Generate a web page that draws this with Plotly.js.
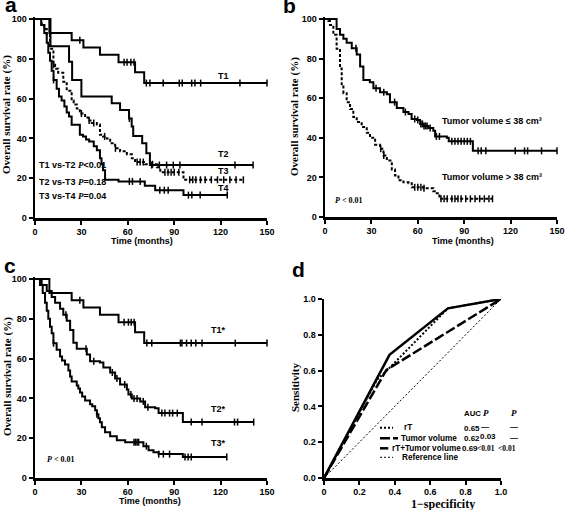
<!DOCTYPE html>
<html><head><meta charset="utf-8">
<script src="https://cdn.plot.ly/plotly-3.0.1.min.js"></script>
<style>html,body{margin:0;padding:0;background:#fff}#chart{width:567px;height:510px}</style>
</head><body><div id="chart"></div>
<script>
// ---------- DATA ----------
const monthTicks = [0, 30, 60, 90, 120, 150];
const pctTicks = [0, 20, 40, 60, 80, 100];
const rocTicks = [0, 0.2, 0.4, 0.6, 0.8, 1];
const rocXLabels = ['0', '0.2', '0.4', '0.6', '0.8', '1.0'];
const rocYLabels = ['0.0', '0.2', '0.4', '0.6', '0.8', '1.0'];

// Panel a : T stage
const aT1Time = [0, 9.3, 23.7, 31.3, 42, 54, 64.7, 70.6, 150];
const aT1Surv = [100, 93, 89.3, 85.7, 82, 78.3, 73.3, 67.8, 67.8];
const aT1Cens = [29, 57.6, 59.5, 62, 64, 72, 74.3, 82.9, 93.3, 95.2, 101.3, 103.4, 107.1, 132.5, 150];

const aT2Time = [0, 10, 22, 24, 30, 49.6, 55, 60.8, 62.5, 63.5, 69.3, 72, 74.3, 141];
const aT2Surv = [100, 86.3, 78.5, 69.3, 61, 57.6, 54.3, 50, 46, 41.2, 37.5, 32.5, 26.6, 26.6];
const aT2Cens = [61, 75.4, 80.4, 85.1, 89.4, 93.7, 129.3, 141];

const aT3Time = [0, 4.3, 6, 7.6, 9.7, 11.9, 13, 15, 18.3, 20.5, 23.7, 25, 27, 29, 32.4, 34.5, 36.7, 40, 42, 44, 46.4, 48.6, 51.8, 55, 59.4, 62.6, 64.7, 71.2, 78.8, 81, 96, 134.7];
const aT3Surv = [100, 97, 95, 92, 85, 77, 75, 73, 68.5, 64, 59, 57, 55, 52.5, 50.5, 49, 47.7, 47, 41.8, 41, 40, 37.5, 35, 33.5, 32, 30, 28.1, 27, 25.5, 23, 19.2, 19.2];
const aT3Cens = [12, 30, 35, 38, 45, 52, 66, 68, 70, 76, 84, 86, 88, 90, 93, 100, 102, 104, 107, 110, 114, 118, 122, 126, 130, 134.7];

const aT4Time = [0, 4, 6, 7.6, 8.6, 9.7, 10.8, 12, 14, 15.5, 17.2, 19, 20.5, 22, 23.7, 29, 31, 33, 35, 38, 40, 42, 43, 44, 45.3, 54, 71, 77.7, 96, 124.3];
const aT4Surv = [100, 97, 93, 88, 83, 79, 74, 69.4, 65, 61, 59, 56, 53, 51, 46.8, 41.8, 41, 39.5, 38.5, 36, 34, 30, 27, 24, 19.2, 18.4, 16.2, 14, 11.5, 11.5];
const aT4Cens = [12, 61, 63, 68, 80.7, 83.6, 86.1, 99.2, 101.4, 106.8, 124.3];

// Panel b : tumor volume
const bLowTime = [0, 7.5, 9.7, 11.9, 14, 17.3, 20.5, 22.7, 24.8, 29, 31.3, 35.6, 40, 42, 46.4, 50.7, 54, 56, 59.4, 61.5, 63.7, 66.9, 70, 71.2, 78.8, 80, 95.6, 150];
const bLowSurv = [100, 95, 92, 90, 88, 85.2, 82, 76, 69.2, 68, 65, 63, 62, 58, 55, 53, 52, 49.5, 49, 47, 46, 45, 43.5, 40.7, 40, 38.2, 33.4, 33.4];
const bLowCens = [20, 33, 38, 45, 52, 58, 60, 62, 63, 64, 65, 66, 68, 72, 74, 82, 84, 86, 88, 90, 92, 94, 99, 101, 104, 123, 129, 131, 140, 150];

const bHighTime = [0, 2.2, 3.2, 5.4, 7.5, 9.7, 10.8, 11.9, 14, 16.2, 18.3, 20.5, 23.7, 27, 29.1, 32.4, 35.6, 37.8, 40, 43.2, 45.3, 47.5, 50.7, 54, 56.1, 63.7, 70, 72.3, 74, 108.3];
const bHighSurv = [100, 99, 97, 92, 85, 75, 67, 62.5, 58, 54.5, 50.5, 48, 45.5, 42.5, 40, 36.5, 34.5, 31, 28.5, 24, 21, 18.5, 17.5, 17, 15, 14.5, 13, 12, 9.2, 9.2];
const bHighCens = [36, 38, 58, 60, 62, 64, 75, 77, 79, 82, 84, 86, 88, 91, 94, 97, 100, 103, 106, 108.3];

// Panel c : revised T stage
const cT1Time = [0, 9.3, 23.7, 31.3, 42, 54, 64.7, 70.6, 150];
const cT1Surv = [100, 93, 89.3, 85.7, 82, 78.3, 73.3, 67.8, 67.8];
const cT1Cens = [29, 57.6, 60.4, 62.2, 64.1, 72.3, 75.5, 94, 95, 98, 101, 104, 108, 129.5, 150];

const cT2Time = [0, 4.3, 7.6, 10.8, 13, 16.2, 18.3, 20.5, 22.7, 24.8, 27, 33.5, 35.6, 42, 44.2, 48.6, 51.8, 55, 59.4, 60.4, 62.6, 68, 71.2, 77.7, 79.9, 95.6, 141.4];
const cT2Surv = [100, 97, 94, 91, 88, 85, 82, 79, 74.4, 68, 64.9, 62, 58.7, 58, 55.5, 53, 50, 47, 44.5, 42, 40, 38.5, 35.5, 35, 32.6, 28.1, 28.1];
const cT2Cens = [20, 33, 38, 50, 53, 58, 62, 64, 66, 70, 73, 82, 84, 87, 89, 92, 101, 108, 129, 131, 141.4];

const cT3Time = [0, 3.2, 5, 6.5, 7.6, 8.6, 9.7, 10.8, 11.9, 14, 16.2, 17.5, 19.4, 21.6, 22.7, 23.7, 27, 28, 29.1, 30.5, 32.4, 35.6, 37, 38.9, 40, 41, 42, 43.2, 45.3, 48.6, 52.9, 58.3, 70.1, 73.4, 76.6, 79.9, 95.6, 124];
const cT3Surv = [100, 97, 93, 88, 84, 80, 76, 72.7, 67.7, 64.5, 61, 59, 57, 54, 51, 48.5, 46.5, 45, 43, 41, 39, 37, 36, 34, 32, 30, 28, 25.5, 23, 21, 19, 18, 16, 14, 13, 12, 10.5, 10.5];
const cT3Cens = [12, 40, 64, 65, 66, 67, 72, 80, 83, 87, 97, 99, 101, 124];

// Panel d : ROC curves
const rocRTFpr = [0, 0.30, 0.35, 0.70, 1];
const rocRTTpr = [0, 0.55, 0.595, 0.948, 1];
const rocTVFpr = [0, 0.353, 1];
const rocTVTpr = [0, 0.604, 1];
const rocCombFpr = [0, 0.37, 0.70, 1];
const rocCombTpr = [0, 0.688, 0.948, 1];
const rocRefFpr = [0, 1];
const rocRefTpr = [0, 1];
const rocNames = ['rT', 'Tumor volume', 'rT+Tumor volume', 'Reference line'];
const rocAUC = ['0.65', '0.62', '0.69'];
const rocP1 = ['—', '0.03', '&lt;0.01'];
const rocP2 = ['—', '—', '&lt;0.01'];

// ---------- HELPERS ----------
const W = 567, H = 510;
const SANS = 'Liberation Sans, Arial, sans-serif';
const SERIF = 'Liberation Serif, Times New Roman, serif';
function px(v) { return v / W; }
function py(v) { return 1 - v / H; }
function stepAt(t, s, v) {
  let r = s[0];
  for (let i = 0; i < t.length; i++) { if (t[i] <= v) r = s[i]; }
  return r;
}
const traces = [];
function km(t, s, c, xa, ya, dash) {
  traces.push({x: t, y: s, xaxis: xa, yaxis: ya, mode: 'lines', showlegend: false, hoverinfo: 'skip',
    line: {shape: 'hv', color: '#000', width: 2, dash: dash || 'solid'}});
  traces.push({x: c, y: c.map(v => stepAt(t, s, v)), xaxis: xa, yaxis: ya, mode: 'markers', showlegend: false,
    hoverinfo: 'skip', cliponaxis: false,
    marker: {symbol: 'line-ns-open', size: 5, color: '#000', line: {width: 1.5, color: '#000'}}});
}
const shortDash = '3px,2px';
km(aT1Time, aT1Surv, aT1Cens, 'x', 'y');
km(aT2Time, aT2Surv, aT2Cens, 'x', 'y');
km(aT3Time, aT3Surv, aT3Cens, 'x', 'y', shortDash);
km(aT4Time, aT4Surv, aT4Cens, 'x', 'y');
km(bLowTime, bLowSurv, bLowCens, 'x2', 'y2');
km(bHighTime, bHighSurv, bHighCens, 'x2', 'y2', shortDash);
km(cT1Time, cT1Surv, cT1Cens, 'x3', 'y3');
km(cT2Time, cT2Surv, cT2Cens, 'x3', 'y3');
km(cT3Time, cT3Surv, cT3Cens, 'x3', 'y3');

const rocStyles = [
  {width: 2, dash: '2px,2px'},
  {width: 2.5, dash: '10px,3px'},
  {width: 2.5, dash: 'solid'},
  {width: 1, dash: '2px,2px'}
];
[[rocRTFpr, rocRTTpr], [rocTVFpr, rocTVTpr], [rocCombFpr, rocCombTpr], [rocRefFpr, rocRefTpr]].forEach((d, i) => {
  traces.push({x: d[0], y: d[1], xaxis: 'x4', yaxis: 'y4', mode: 'lines', name: rocNames[i], showlegend: false,
    hoverinfo: 'skip', line: {color: '#000', width: rocStyles[i].width, dash: rocStyles[i].dash}});
});

// ---------- AXES ----------
const tickFont = {family: SANS, size: 9, color: '#000', weight: 700};
function axis(domain, range, vals, texts) {
  return {domain, range, tickvals: vals, ticktext: texts, ticks: 'outside', ticklen: 4, tickwidth: 2,
    tickcolor: '#000', showline: true, linewidth: 2.5, linecolor: '#000', showgrid: false, zeroline: false,
    tickfont: tickFont, fixedrange: true};
}
const mt = monthTicks.map(String), pt = pctTicks.map(String);
const layout = {
  width: W, height: H, autosize: false, margin: {l: 0, r: 0, t: 0, b: 0},
  paper_bgcolor: '#fff', plot_bgcolor: '#fff', showlegend: false,
  font: {family: SANS, color: '#000', size: 9},
  xaxis: axis([px(35), px(267)], [0, 150], monthTicks, mt),
  yaxis: axis([py(218), py(17)], [0, 101], pctTicks, pt),
  xaxis2: axis([px(325), px(557)], [0, 150], monthTicks, mt),
  yaxis2: axis([py(217), py(17)], [0, 101], pctTicks, pt),
  xaxis3: axis([px(35), px(267)], [0, 150], monthTicks, mt),
  yaxis3: axis([py(478), py(277)], [0, 101], pctTicks, pt),
  xaxis4: axis([px(324), px(501)], [0, 1], rocTicks, rocXLabels),
  yaxis4: axis([py(478), py(299)], [0, 1], rocTicks, rocYLabels),
  annotations: [], shapes: []
};
layout.xaxis2.anchor = 'y2'; layout.yaxis2.anchor = 'x2';
layout.xaxis3.anchor = 'y3'; layout.yaxis3.anchor = 'x3';
layout.xaxis4.anchor = 'y4'; layout.yaxis4.anchor = 'x4';

const A = layout.annotations;
function ann(text, x, y, xref, yref, o) {
  o = o || {};
  A.push({text, x, y, xref, yref, showarrow: false, xanchor: o.xa || 'center', yanchor: o.ya || 'middle',
    textangle: o.angle || 0,
    font: {family: o.family || SANS, size: o.size || 9, color: '#000', weight: o.weight === undefined ? 700 : o.weight}});
}
function annPx(text, xp, yp, o) { ann(text, px(xp), py(yp), 'paper', 'paper', o); }
const Pit = '<i><span style="font-family:Liberation Serif">P</span></i>';
// panel letters
annPx('a', 3, 5, {xa: 'left', size: 21});
annPx('b', 281, 6, {xa: 'left', size: 21});
annPx('c', 2, 265, {xa: 'left', size: 21});
annPx('d', 290, 269, {xa: 'left', size: 21});
// axis titles
const yt = 'Overall survival rate (%)';
annPx(yt, 7, 115, {angle: -90, family: SERIF, size: 11});
annPx(yt, 295, 117, {angle: -90, family: SERIF, size: 11});
annPx(yt, 7, 377, {angle: -90, family: SERIF, size: 11});
annPx('Time (months)', 142, 240.5);
annPx('Time (months)', 463, 240.5);
annPx('Time (months)', 150, 500.5);
annPx('Sensitivity', 295, 388, {angle: -90, family: SERIF, size: 11});
annPx('1−specificity', 443, 503.5, {family: SERIF, size: 12});
// panel a labels
ann('T1', 122, 71.4, 'x', 'y');
ann('T2', 122, 32.3, 'x', 'y');
ann('T3', 122, 23.4, 'x', 'y');
ann('T4', 122, 15, 'x', 'y');
ann('T1 vs-T2 ' + Pit + '&lt;0.01', 1.2, 26.4, 'x', 'y', {xa: 'left'});
ann('T2 vs-T3 ' + Pit + '=0.18', 1.2, 18, 'x', 'y', {xa: 'left'});
ann('T3 vs-T4 ' + Pit + '=0.04', 1.2, 10.9, 'x', 'y', {xa: 'left'});
// panel b labels
ann('Tumor volume ≤ 38 cm³', 74.5, 48.7, 'x2', 'y2', {xa: 'left'});
ann('Tumor volume &gt; 38 cm³', 74.5, 20.2, 'x2', 'y2', {xa: 'left'});
ann('<i>P</i> &lt; 0.01', 5.4, 8.2, 'x2', 'y2', {xa: 'left', family: SERIF, size: 8});
// panel c labels
ann('T1*', 118.5, 74.4, 'x3', 'y3');
ann('T2*', 118.5, 34.6, 'x3', 'y3');
ann('T3*', 118.5, 17.6, 'x3', 'y3');
ann('<i>P</i> &lt; 0.01', 6.5, 9.2, 'x3', 'y3', {xa: 'left', family: SERIF, size: 8});
// panel d legend / table (pixel positions)
const rowY = [427.7, 438.3, 448.3, 457.3];
const sampleEnd = [393, 398, 388.3, 393];
const textX = [401.7, 399.3, 390, 400];
rocNames.forEach((n, i) => {
  layout.shapes.push({type: 'line', xref: 'paper', yref: 'paper', x0: px(380), x1: px(sampleEnd[i]),
    y0: py(rowY[i]), y1: py(rowY[i]),
    line: {color: '#000', width: rocStyles[i].width, dash: rocStyles[i].dash}});
  annPx(n, textX[i], rowY[i], {xa: 'left', size: 8.2, weight: i === 3 ? 600 : 700});
});
annPx('AUC', 461.7, 413.3, {xa: 'left', size: 7.8});
annPx('<i>P</i>', 486, 413, {family: SERIF, size: 9});
annPx('<i>P</i>', 514, 413, {family: SERIF, size: 9});
const p1Y = [426, 436, 448.3], p2Y = [426, 437.5, 448.3];
const p1X = [485, 488, 486.3], p2X = [514, 514, 507];
const aucX = [461.7, 461.7, 459.8];
rocAUC.forEach((v, i) => {
  annPx(v, aucX[i], rowY[i] + 0.5, {xa: 'left', size: 8});
  const s1 = rocP1[i].indexOf('&lt;') === 0;
  annPx(rocP1[i], p1X[i], p1Y[i], {family: s1 ? SERIF : SANS, size: s1 ? 7.5 : 8});
  const s2 = rocP2[i].indexOf('&lt;') === 0;
  annPx(rocP2[i], p2X[i], p2Y[i], {family: s2 ? SERIF : SANS, size: s2 ? 7.5 : 8});
});

Plotly.newPlot('chart', traces, layout, {staticPlot: true, displayModeBar: false});
</script>
</body></html>
